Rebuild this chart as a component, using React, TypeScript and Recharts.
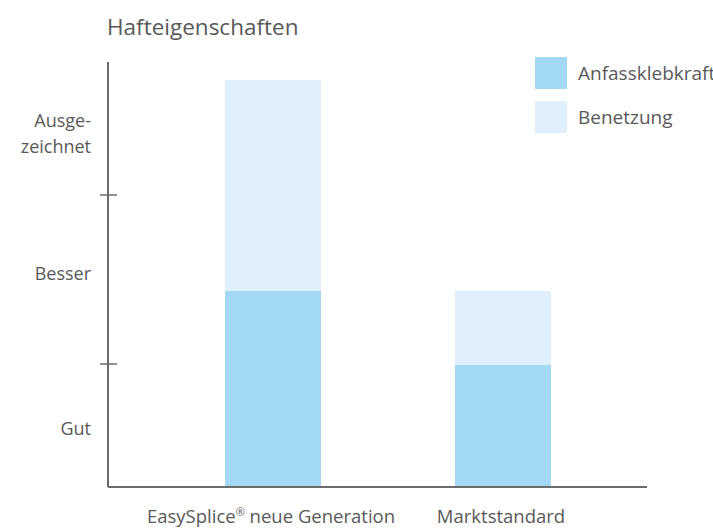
import React from "react";
import { BarChart, Bar, XAxis, YAxis } from "recharts";

const categories = ["EasySplice® neue Generation", "Marktstandard"];
const anfassklebkraft = [196, 122];
const benetzung = [211, 74];
const levelLabels = ["Gut", "Besser", "Ausge-|zeichnet"];
const levelCenters = [59, 214, 356];
const levelBoundaries = [123, 292];
const seriesNames = ["Anfassklebkraft", "Benetzung"];
const seriesColors = ["#A3D9F5", "#DFF0FC"];

const data = categories.map((c, i) => ({
  name: c,
  a: anfassklebkraft[i],
  b: benetzung[i],
}));

const FONT = "'Open Sans', sans-serif";
const TEXT = "#595959";
const AXIS = "#6b6b6b";

const YTick = (props: any) => {
  const { x, y, payload } = props;
  const v = payload.value;
  const bi = levelBoundaries.indexOf(v);
  if (bi >= 0) {
    return <line x1={x - 8} x2={x + 9} y1={y} y2={y} stroke={AXIS} strokeWidth={1.5} />;
  }
  const li = levelCenters.indexOf(v);
  if (li < 0) return null;
  const lines = levelLabels[li].split("|");
  if (lines.length === 1) {
    return (
      <text x={x - 17} y={y + 6.5} textAnchor="end" fontFamily={FONT} fontSize={18} fill={TEXT}>
        {lines[0]}
      </text>
    );
  }
  return (
    <text x={x - 17} y={y} textAnchor="end" fontFamily={FONT} fontSize={18} fill={TEXT}>
      <tspan x={x - 17} y={y - 4}>{lines[0]}</tspan>
      <tspan x={x - 17} y={y + 22}>{lines[1]}</tspan>
    </text>
  );
};

const XTick = (props: any) => {
  const { x, y, payload } = props;
  const parts = String(payload.value).split("®");
  return (
    <text x={x - 2} y={y + 36} textAnchor="middle" fontFamily={FONT} fontSize={18.5} fill={TEXT}>
      {parts.map((p, i) => (
        <React.Fragment key={i}>
          {i > 0 && (
            <tspan fontSize={11} dy={-7}>®</tspan>
          )}
          <tspan dy={i > 0 ? 7 : 0}>{p}</tspan>
        </React.Fragment>
      ))}
    </text>
  );
};

export default function App() {
  return (
    <div style={{ position: "absolute", left: 0, top: 0, width: 713, height: 530, background: "#fff", overflow: "hidden" }}>
      <div
        style={{
          position: "absolute",
          left: 107,
          top: 12,
          fontFamily: FONT,
          fontSize: 22.5,
          color: TEXT,
          lineHeight: "30px",
          whiteSpace: "nowrap",
        }}
      >
        Hafteigenschaften
      </div>
      <BarChart
        width={713}
        height={530}
        data={data}
        margin={{ top: 62, right: 66, bottom: 0, left: 0 }}
        barSize={96}
      >
        <XAxis
          dataKey="name"
          axisLine={{ stroke: AXIS, strokeWidth: 2 }}
          tickLine={false}
          tickSize={0}
          tickMargin={0}
          padding={{ left: 50, right: 29 }}
          tick={<XTick />}
          interval={0}
          height={43}
        />
        <YAxis
          type="number"
          domain={[0, 425]}
          ticks={[...levelCenters, ...levelBoundaries].sort((p, q) => p - q)}
          axisLine={{ stroke: AXIS, strokeWidth: 2 }}
          tickLine={false}
          tickSize={0}
          tickMargin={0}
          width={108}
          tick={<YTick />}
          interval={0}
          allowDataOverflow
        />
        <Bar dataKey="a" stackId="s" fill={seriesColors[0]} isAnimationActive={false} name={seriesNames[0]} />
        <Bar dataKey="b" stackId="s" fill={seriesColors[1]} isAnimationActive={false} name={seriesNames[1]} />
      </BarChart>
      <div style={{ position: "absolute", left: 535, top: 57, fontFamily: FONT }}>
        {seriesNames.map((n, i) => (
          <div key={n} style={{ display: "flex", alignItems: "center", height: 32, marginBottom: 12 }}>
            <div style={{ width: 32, height: 32, background: seriesColors[i], marginRight: 11, flexShrink: 0 }} />
            <span style={{ fontSize: 19, color: TEXT, whiteSpace: "nowrap" }}>{n}</span>
          </div>
        ))}
      </div>
    </div>
  );
}
